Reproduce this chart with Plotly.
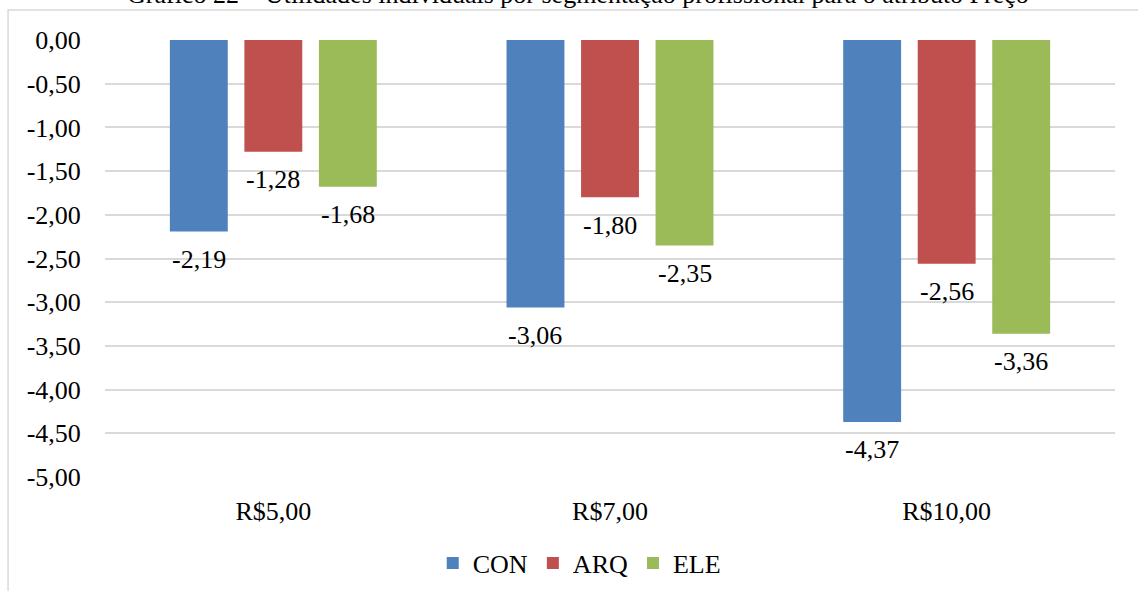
import plotly.graph_objects as go

# Gráfico 22 - utilidades por segmentação profissional, atributo Preço
categorias = ["R$5,00", "R$7,00", "R$10,00"]
series = ["CON", "ARQ", "ELE"]
con = [-2.19, -3.06, -4.37]
arq = [-1.28, -1.80, -2.56]
ele = [-1.68, -2.35, -3.36]
cores = ["#4F81BD", "#C0504D", "#9BBB59"]
y_ticks = [0, -0.5, -1, -1.5, -2, -2.5, -3, -3.5, -4, -4.5, -5]

titulo = "Gráfico 22 – Utilidades individuais por segmentação profissional para o atributo Preço"
fonte = "Liberation Serif, Times New Roman, serif"
tam = 26

bargap = 0.336
groupgap = 0.223


def fmt(v):
    return f"{v:.2f}".replace(".", ",")


fig = go.Figure()
valores = [con, arq, ele]
for nome, vals, cor in zip(series, valores, cores):
    fig.add_trace(go.Bar(x=list(range(len(categorias))), y=vals, name=nome,
                         marker=dict(color=cor, line=dict(width=0))))

# rótulos de dados abaixo das barras
slot = (1 - bargap) / len(series)
anots = []
for i, vals in enumerate(valores):
    off = (i - (len(series) - 1) / 2) * slot
    for j, v in enumerate(vals):
        anots.append(dict(x=j + off, y=v, xref="x", yref="y",
                          text=fmt(v), showarrow=False,
                          yanchor="middle", yshift=-28,
                          font=dict(family=fonte, size=tam, color="#000000")))

# título (cortado no topo)
anots.append(dict(x=0.468, y=1.066, xref="paper", yref="paper", text=titulo,
                  showarrow=False, xanchor="center", yanchor="bottom",
                  font=dict(family=fonte, size=tam, color="#000000")))

fig.update_layout(
    width=1138, height=591,
    margin=dict(l=105, r=23, t=40, b=114),
    paper_bgcolor="white", plot_bgcolor="white",
    barmode="group", bargap=bargap, bargroupgap=groupgap,
    font=dict(family=fonte, size=tam, color="#000000"),
    showlegend=True,
    legend=dict(orientation="h", xref="container", yref="container",
                x=0.509, y=0.047, xanchor="center", yanchor="middle",
                font=dict(family=fonte, size=tam, color="#000000"), itemwidth=30,
                traceorder="normal"),
    annotations=anots,
    shapes=[dict(type="rect", xref="paper", yref="paper", x0=-0.096, x1=1.2,
                 y0=-0.4, y1=1.0686, line=dict(color="#D9D9D9", width=1.5),
                 fillcolor="rgba(0,0,0,0)", layer="below")],
)
fig.update_xaxes(tickmode="array", tickvals=list(range(len(categorias))), ticktext=categorias,
                 range=[-0.5, 2.5], showgrid=False, zeroline=False, showline=False,
                 ticks="outside", ticklen=11, tickcolor="rgba(0,0,0,0)",
                 tickfont=dict(family=fonte, size=tam, color="#000000"))
fig.update_yaxes(range=[-5, 0], tickmode="array", tickvals=y_ticks,
                 ticktext=[fmt(t) for t in y_ticks],
                 showgrid=True, gridcolor="#D9D9D9", gridwidth=1.5,
                 zeroline=False, showline=False,
                 ticks="outside", ticklen=18, tickcolor="rgba(0,0,0,0)",
                 tickfont=dict(family=fonte, size=tam, color="#000000"))

fig.write_html("out.html", config={"displayModeBar": False},
               post_script="document.body.style.margin='0';")
